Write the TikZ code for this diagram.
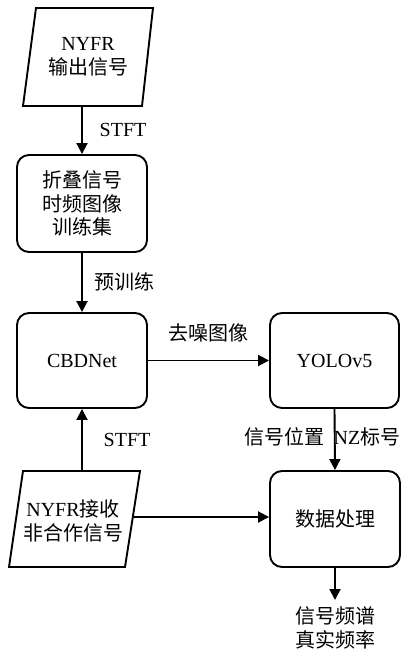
\documentclass[tikz,border=0pt]{standalone}
\usepackage{fontspec}
\setmainfont{Liberation Serif}
\newfontfamily\cjk{Noto Sans CJK SC}
\usetikzlibrary{arrows.meta}
\begin{document}
\begin{tikzpicture}[x=1pt,y=-1pt, line width=1.9pt,
  box/.style={draw, rounded corners=12pt, minimum width=130pt, minimum height=97pt, align=center, inner sep=0pt, font=\fontsize{20}{23.5}\selectfont},
  txt/.style={align=center, font=\fontsize{20}{23.5}\selectfont, inner sep=0pt},
  lbl/.style={font=\fontsize{20}{23.5}\selectfont, inner sep=0pt},
  arr/.style={-{Triangle[length=11pt,width=11pt]}}]
\useasboundingbox (0,0) rectangle (401,652);
% input parallelogram (top)
\draw[line join=miter] (36,8) -- (153,8) -- (142,106) -- (23,106) -- cycle;
\node[txt] (in1) at (88,57) {NYFR\\{\cjk 输出信号}};
\coordinate (in1s) at (82,106);
% boxes
\node[box] (train) at (82,203.5) {{\cjk 折叠信号}\\{\cjk 时频图像}\\{\cjk 训练集}};
\node[box, minimum height=95pt] (cbd) at (82,360.5) {CBDNet};
\node[box, minimum width=129pt, minimum height=95pt] (yolo) at (334.5,360.5) {YOLOv5};
\node[box, minimum height=96pt] (proc) at (335,519) {{\cjk 数据处理}};
% input parallelogram (bottom)
\draw[line join=miter] (23,471) -- (140,471) -- (125,567) -- (9,567) -- cycle;
\node[txt] (in2) at (73,521) {NYFR{\cjk 接收}\\{\cjk 非合作信号}};
\coordinate (in2n) at (82,471);
\coordinate (in2e) at (133,517);
% output
\node[txt] (out) at (335,628) {{\cjk 信号频谱}\\{\cjk 真实频率}};
\coordinate (outtip) at (335,600);
% connectors
\draw[arr] (in1s) -- (train.north);
\draw[arr] (train.south) -- (cbd.north);
\draw[arr] (in2n) -- (cbd.south);
\draw[arr] (cbd.east) -- (yolo.west);
\draw[arr] (yolo.south) -- (proc.north);
\draw[arr] (in2e) -- (in2e -| proc.west);
\draw[arr] (proc.south) -- (outtip);
% labels
\node[lbl] (l1) at (123,130) {STFT};
\node[lbl] (l2) at (124,282) {\cjk 预训练};
\node[lbl] (l3) at (208,333) {\cjk 去噪图像};
\node[lbl] (l4) at (127,440) {STFT};
\node[lbl] (l5) at (284,437) {\cjk 信号位置};
\node[lbl] (l6) at (367,437) {NZ{\cjk 标号}};
\end{tikzpicture}
\end{document}
